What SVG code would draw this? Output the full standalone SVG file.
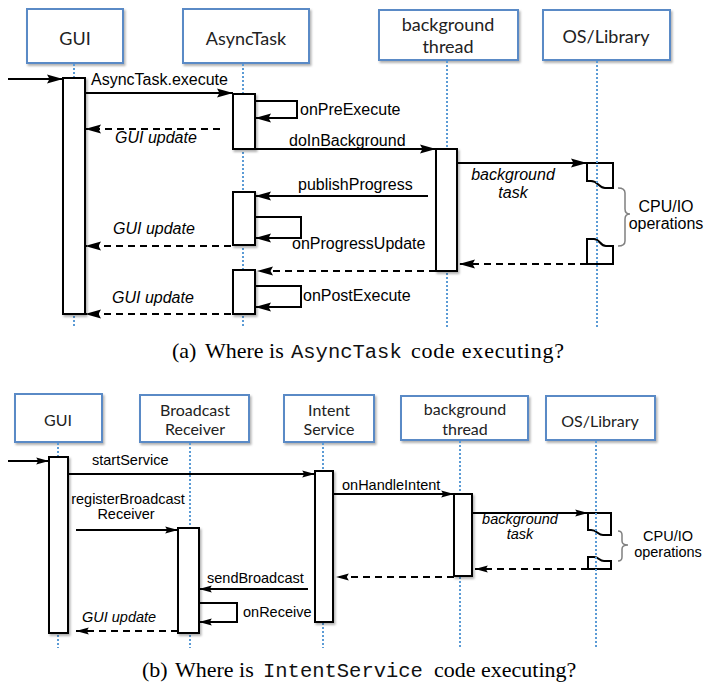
<svg xmlns="http://www.w3.org/2000/svg" width="707" height="686" viewBox="0 0 707 686">
<style>
.hdr{fill:#fff;stroke:#5a8ac6;stroke-width:2}
.hl{font-family:Lato,"Liberation Sans",sans-serif;fill:#222;text-anchor:middle}
.ha{font-size:18px}
.hb{font-size:16px}
.life{stroke:#5b9bd5;stroke-width:2;stroke-dasharray:2 2;fill:none}
.act{fill:#fff;stroke:#000;stroke-width:2}
.ln{stroke:#000;stroke-width:2;fill:none}
.dash{stroke-dasharray:7 5}
.lbl{font-family:"Liberation Sans",Arial,sans-serif;fill:#000}
.la{font-size:16px}
.lb{font-size:14.5px}
.it{font-style:italic}
.mid{text-anchor:middle}
.brace{stroke:#808080;stroke-width:1.5;fill:none}
.cap{font-family:"Liberation Serif","Times New Roman",serif;font-size:22px;fill:#000}
.mono{font-family:"Liberation Mono","Courier New",monospace;font-size:20.5px;fill:#111}
</style>
<defs>
<filter id="sh" x="-20%" y="-20%" width="150%" height="150%">
<feDropShadow dx="1.5" dy="2" stdDeviation="1.2" flood-color="#000" flood-opacity="0.3"/>
</filter>
<marker id="ah" viewBox="0 0 16 10" refX="16" refY="5" markerWidth="16" markerHeight="10" markerUnits="userSpaceOnUse" orient="auto">
<path d="M0,0.5 L16,5 L0,9.5 L2.5,5 Z" fill="#000"/>
</marker>
<marker id="ahs" viewBox="0 0 16 10" refX="16" refY="5" markerWidth="13" markerHeight="8" markerUnits="userSpaceOnUse" orient="auto">
<path d="M0,0.5 L16,5 L0,9.5 L2.5,5 Z" fill="#000"/>
</marker>
</defs>
<rect width="707" height="686" fill="#fff"/>

<!-- ===== (a) ===== -->
<g id="a-gui">
<rect class="hdr" x="27" y="9" width="96" height="54" filter="url(#sh)"/>
<text class="hl ha" x="75" y="45">GUI</text>
<line class="life" x1="74" y1="64" x2="74" y2="328"/>
<rect class="act" x="63" y="78" width="22" height="236" filter="url(#sh)"/>
</g>
<g id="a-asynctask">
<rect class="hdr" x="183" y="9" width="126" height="54" filter="url(#sh)"/>
<text class="hl ha" x="246" y="45">AsyncTask</text>
<line class="life" x1="243" y1="64" x2="243" y2="328"/>
<rect class="act" x="233" y="94" width="22" height="55" filter="url(#sh)"/>
<rect class="act" x="233" y="192" width="22" height="53" filter="url(#sh)"/>
<rect class="act" x="233" y="270" width="22" height="44" filter="url(#sh)"/>
</g>
<g id="a-bgthread">
<rect class="hdr" x="379" y="10" width="139" height="50" filter="url(#sh)"/>
<text class="hl ha" x="448" y="31">background</text>
<text class="hl ha" x="448" y="53">thread</text>
<line class="life" x1="447" y1="61" x2="447" y2="328"/>
<rect class="act" x="436" y="149" width="21" height="122" filter="url(#sh)"/>
</g>
<g id="a-os">
<rect class="hdr" x="543" y="10" width="127" height="50" filter="url(#sh)"/>
<text class="hl ha" x="606" y="43">OS/Library</text>
<path class="act" d="M587,163 H613 V188 H605 C599,188 598,181 591,181 H587 Z"/>
<path class="act" d="M587,264 V239 H594 C600,239 600,246 606,246 H613 V264 Z"/>
<line class="life" x1="597" y1="61" x2="597" y2="328"/>
<path class="brace" d="M618,188 Q625,188 625,193 V209 Q625,214 630,214 Q625,214 625,219 V241 Q625,246 618,246"/>
<text class="lbl la mid" x="666" y="212" font-size="15.5">CPU/IO</text>
<text class="lbl la mid" x="666" y="229" font-size="15.5">operations</text>
</g>

<g id="a-connectors">
<line class="ln" x1="8" y1="79" x2="63" y2="79" marker-end="url(#ah)"/>
<line class="ln" x1="85" y1="93" x2="233" y2="93" marker-end="url(#ah)"/>
<text class="lbl la" x="91" y="85">AsyncTask.execute</text>
<path class="ln" d="M255,101 H297 V118 H255" stroke-width="2.5" marker-end="url(#ah)"/>
<text class="lbl la" x="300" y="115">onPreExecute</text>
<line class="ln dash" x1="220" y1="129" x2="85" y2="129" marker-end="url(#ah)"/>
<text class="lbl la it" x="115" y="143">GUI update</text>
<line class="ln" x1="255" y1="149" x2="436" y2="149" marker-end="url(#ah)"/>
<text class="lbl la" x="289" y="146">doInBackground</text>
<line class="ln" x1="457" y1="163" x2="587" y2="163" marker-end="url(#ah)"/>
<text class="lbl la it mid" x="513" y="180">background</text>
<text class="lbl la it mid" x="513" y="198">task</text>
<line class="ln" x1="428" y1="196" x2="255" y2="196" marker-end="url(#ah)"/>
<text class="lbl la" x="298" y="190">publishProgress</text>
<path class="ln" d="M255,217 H301 V238 H255" stroke-width="2.5" marker-end="url(#ah)"/>
<text class="lbl la" x="292" y="249">onProgressUpdate</text>
<line class="ln dash" x1="231" y1="246" x2="85" y2="246" marker-end="url(#ah)"/>
<text class="lbl la it" x="113" y="234">GUI update</text>
<line class="ln dash" x1="587" y1="264" x2="459" y2="264" marker-end="url(#ah)"/>
<line class="ln dash" x1="436" y1="271" x2="257" y2="271" marker-end="url(#ah)"/>
<path class="ln" d="M255,286 H301 V307 H255" stroke-width="2.5" marker-end="url(#ah)"/>
<text class="lbl la" x="303" y="301">onPostExecute</text>
<line class="ln dash" x1="231" y1="314" x2="85" y2="314" marker-end="url(#ah)"/>
<text class="lbl la it" x="112" y="303">GUI update</text>
</g>

<g id="caption-a">
<text class="cap" x="172" y="358">(a)</text>
<text class="cap" x="205" y="358">Where is</text>
<text class="mono" x="291" y="358">AsyncTask</text>
<text class="cap" x="411" y="358" textLength="153" lengthAdjust="spacing">code executing?</text>
</g>

<!-- ===== (b) ===== -->
<g id="b-gui">
<rect class="hdr" x="15" y="394" width="87" height="48" filter="url(#sh)"/>
<text class="hl hb" x="58" y="426">GUI</text>
<line class="life" x1="58" y1="443" x2="58" y2="648"/>
<rect class="act" x="49" y="457" width="19" height="176" filter="url(#sh)"/>
</g>
<g id="b-broadcast">
<rect class="hdr" x="140" y="395" width="109" height="47" filter="url(#sh)"/>
<text class="hl hb" x="195" y="416">Broadcast</text>
<text class="hl hb" x="195" y="435">Receiver</text>
<line class="life" x1="190" y1="443" x2="190" y2="648"/>
<rect class="act" x="178" y="528" width="21" height="105" filter="url(#sh)"/>
</g>
<g id="b-intent">
<rect class="hdr" x="284" y="395" width="90" height="47" filter="url(#sh)"/>
<text class="hl hb" x="329" y="416">Intent</text>
<text class="hl hb" x="329" y="435">Service</text>
<line class="life" x1="323" y1="443" x2="323" y2="648"/>
<rect class="act" x="315" y="471" width="18" height="151" filter="url(#sh)"/>
</g>
<g id="b-bgthread">
<rect class="hdr" x="401" y="396" width="127" height="44" filter="url(#sh)"/>
<text class="hl hb" x="465" y="415">background</text>
<text class="hl hb" x="465" y="435">thread</text>
<line class="life" x1="460" y1="441" x2="460" y2="648"/>
<rect class="act" x="454" y="494" width="18" height="82" filter="url(#sh)"/>
</g>
<g id="b-os">
<rect class="hdr" x="546" y="396" width="109" height="44" filter="url(#sh)"/>
<text class="hl hb" x="600" y="427">OS/Library</text>
<path class="act" d="M588,513 H611 V535 H603 C598,535 597,530 591,530 H588 Z"/>
<path class="act" d="M588,569 V557 H594 C599,557 599,561 604,561 H611 V569 Z"/>
<line class="life" x1="596" y1="441" x2="596" y2="648"/>
<path class="brace" d="M618,531 Q622,531 622,535 V541 Q622,545 628,545 Q622,545 622,549 V557 Q622,561 618,561"/>
<text class="lbl lb mid" x="668" y="541" font-size="14">CPU/IO</text>
<text class="lbl lb mid" x="668" y="557" font-size="14">operations</text>
</g>

<g id="b-connectors">
<line class="ln" x1="8" y1="461" x2="49" y2="461" marker-end="url(#ahs)"/>
<line class="ln" x1="68" y1="474" x2="315" y2="474" marker-end="url(#ahs)" stroke-width="1.6"/>
<text class="lbl lb" x="92" y="465">startService</text>
<text class="lbl lb mid" x="128" y="504">registerBroadcast</text>
<text class="lbl lb mid" x="126" y="519">Receiver</text>
<line class="ln" x1="76" y1="530" x2="178" y2="530" marker-end="url(#ahs)" stroke-width="1.6"/>
<line class="ln" x1="333" y1="494" x2="454" y2="494" marker-end="url(#ahs)" stroke-width="1.6"/>
<text class="lbl lb" x="342" y="490">onHandleIntent</text>
<line class="ln" x1="472" y1="513" x2="588" y2="513" marker-end="url(#ahs)" stroke-width="1.6"/>
<text class="lbl lb it mid" x="520" y="524">background</text>
<text class="lbl lb it mid" x="520" y="539">task</text>
<line class="ln dash" x1="588" y1="569" x2="475" y2="569" marker-end="url(#ahs)" stroke-width="1.6"/>
<line class="ln dash" x1="454" y1="577" x2="336" y2="577" marker-end="url(#ahs)"/>
<line class="ln" x1="308" y1="589" x2="199" y2="589" marker-end="url(#ahs)" stroke-width="1.6"/>
<text class="lbl lb" x="207" y="583">sendBroadcast</text>
<path class="ln" d="M199,603 H237 V622 H199" marker-end="url(#ahs)"/>
<text class="lbl lb" x="243" y="617">onReceive</text>
<line class="ln dash" x1="178" y1="631" x2="76" y2="631" marker-end="url(#ahs)" stroke-width="1.6"/>
<text class="lbl lb it" x="82" y="622">GUI update</text>
</g>

<g id="caption-b">
<text class="cap" x="142" y="677">(b)</text>
<text class="cap" x="175" y="677">Where is</text>
<text class="mono" x="263" y="677">IntentService</text>
<text class="cap" x="434" y="677">code executing?</text>
</g>
</svg>
